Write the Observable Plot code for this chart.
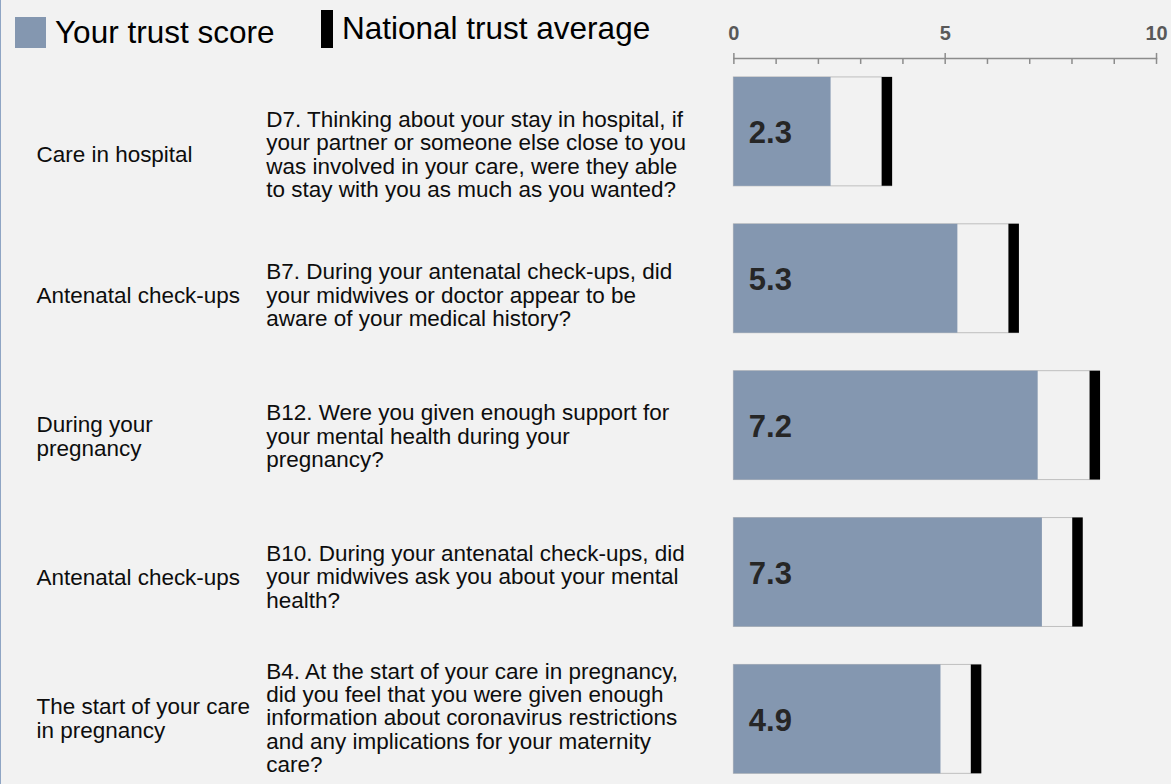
<!DOCTYPE html>
<html>
<head>
<meta charset="utf-8">
<script src="https://cdn.jsdelivr.net/npm/d3@7"></script>
<script src="https://cdn.jsdelivr.net/npm/@observablehq/plot@0.6"></script>
<style>
  html, body { margin: 0; padding: 0; background: #f2f2f2; }
  body { width: 1171px; height: 784px; overflow: hidden; font-family: "Liberation Sans", Arial, sans-serif; }
  #wrap { position: relative; width: 1171px; height: 784px; border-left: 1px solid #8fa5c4; box-sizing: border-box; }
  #wrap > div.layer { position: absolute; left: 0; top: 0; }
  .leg { position: absolute; font-size: 31.5px; line-height: 1; color: #000; white-space: nowrap; }
  .sw { position: absolute; }
</style>
</head>
<body>
<div id="wrap">
  <div class="layer" id="bars"></div>
  <div class="layer" id="labels"></div>
  <div class="sw" style="left:14px; top:17px; width:31px; height:31px; background:#8497b0;"></div>
  <div class="leg" id="leg1" style="left:54px; top:16.5px;"></div>
  <div class="sw" style="left:320px; top:10px; width:12px; height:38px; background:#000;"></div>
  <div class="leg" id="leg2" style="left:341px; top:13px;"></div>
</div>
<script>
// ---- data ----
const ids = ["D7", "B7", "B12", "B10", "B4"];
const sections = [
  "Care in hospital",
  "Antenatal check-ups",
  "During your\npregnancy",
  "Antenatal check-ups",
  "The start of your care\nin pregnancy"
];
const questions = [
  "D7. Thinking about your stay in hospital, if\nyour partner or someone else close to you\nwas involved in your care, were they able\nto stay with you as much as you wanted?",
  "B7. During your antenatal check-ups, did\nyour midwives or doctor appear to be\naware of your medical history?",
  "B12. Were you given enough support for\nyour mental health during your\npregnancy?",
  "B10. During your antenatal check-ups, did\nyour midwives ask you about your mental\nhealth?",
  "B4. At the start of your care in pregnancy,\ndid you feel that you were given enough\ninformation about coronavirus restrictions\nand any implications for your maternity\ncare?"
];
const trustScores = [2.3, 5.3, 7.2, 7.3, 4.9];
const nationalAverages = [3.62, 6.62, 8.54, 8.13, 5.73];
const majorTicks = [0, 5, 10];
const minorTicks = [0, 1, 2, 3, 4, 5, 6, 7, 8, 9, 10];
const legendLabels = ["Your trust score", "National trust average"];

const rows = ids.map((id, i) => ({
  id, section: sections[i], question: questions[i],
  score: trustScores[i], avg: nationalAverages[i]
}));

document.getElementById("leg1").textContent = legendLabels[0];
document.getElementById("leg2").textContent = legendLabels[1];

const font = "'Liberation Sans', Arial, sans-serif";

const bars = Plot.plot({
  width: 1171,
  height: 784,
  marginLeft: 733,
  marginRight: 15,
  marginTop: 58,
  marginBottom: 0,
  style: { background: "none", fontFamily: font, overflow: "visible" },
  x: { domain: [0, 10], axis: null },
  y: { domain: ids, range: [77.3, 774.3], paddingInner: 0.26, paddingOuter: 0, axis: null },
  marks: [
    Plot.frame({ anchor: "top", stroke: "#8c8c8c", strokeWidth: 1.5 }),
    Plot.axisX({ anchor: "top", ticks: minorTicks, tickSize: -5, tickFormat: () => "", stroke: "#8c8c8c", strokeWidth: 1.5, label: null }),
    Plot.axisX({ anchor: "top", ticks: majorTicks, tickSize: 6, tickPadding: 12, stroke: "#8c8c8c", strokeWidth: 1.5,
                 fill: "#595959", fontSize: 20, fontWeight: "bold", label: null }),
    Plot.barX(rows, { x: "avg", y: "id", fill: "none", stroke: "#bfbfbf", strokeWidth: 1, insetRight: -5.25 }),
    Plot.barX(rows, { x: "score", y: "id", fill: "#8497b0" }),
    Plot.tickX(rows, { x: "avg", y: "id", stroke: "#000", strokeWidth: 10.5 }),
    Plot.text(rows, { x: 0, y: "id", text: d => d.score.toFixed(1), textAnchor: "start", dx: 15, dy: 1.5,
                      fontSize: 31, fontWeight: "bold", fill: "#262626" })
  ]
});
document.getElementById("bars").appendChild(bars);

const labels = Plot.plot({
  width: 1171,
  height: 784,
  marginLeft: 35,
  marginRight: 0,
  marginTop: 0,
  marginBottom: 0,
  style: { background: "none", fontFamily: font, overflow: "visible" },
  x: { axis: null },
  y: { type: "point", domain: ids, range: [153, 718.7], padding: 0, axis: null },
  marks: [
    Plot.text(rows, { y: "id", text: "section", frameAnchor: "left", textAnchor: "start",
                      fontSize: 22.5, lineHeight: 1.08, fill: "#0d0d0d" }),
    Plot.text(rows, { y: "id", text: "question", frameAnchor: "left", textAnchor: "start", dx: 230,
                      fontSize: 22.5, lineHeight: 1.04, fill: "#0d0d0d" })
  ]
});
document.getElementById("labels").appendChild(labels);
</script>
</body>
</html>
